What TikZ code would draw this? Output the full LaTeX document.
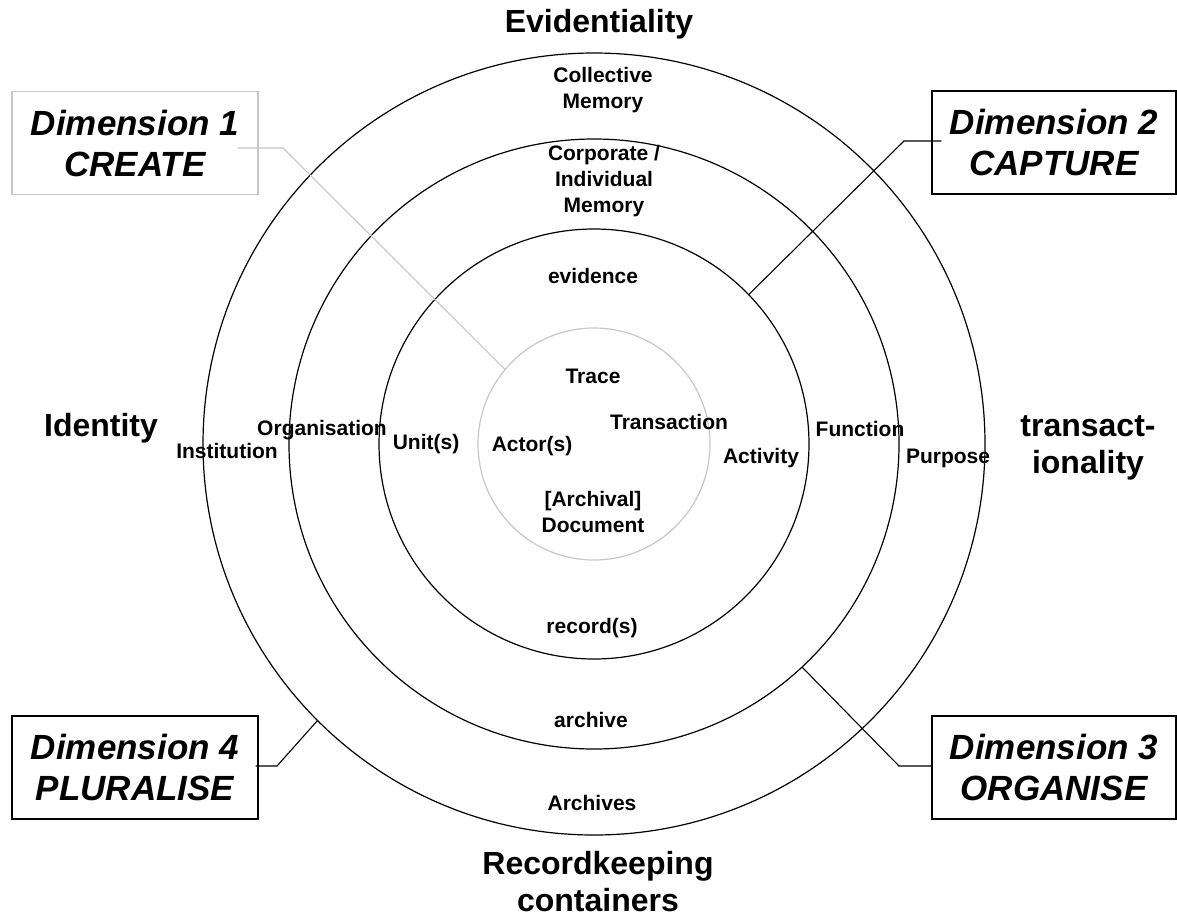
\documentclass[tikz,border=0pt]{standalone}
\usepackage{fontspec}
\setmainfont{Liberation Sans}
\usepackage{xcolor}

\tikzset{
    lbl/.style={font=\bfseries\fontsize{21}{26}\selectfont, align=center, inner sep=1pt},
    pole/.style={font=\bfseries\fontsize{32}{37}\selectfont, align=center},
    dimbox/.style={draw, line width=1.2pt, minimum width=246pt, minimum height=103pt,
        font=\bfseries\itshape\fontsize{35}{41}\selectfont, align=center},
    lead/.style={line width=1.1pt}
}

\begin{document}
\begin{tikzpicture}[x=1pt,y=-1pt]
    \useasboundingbox (0,0) rectangle (1177,919);
    % the four rings, outer to inner
    \foreach \d/\n/\c in {782/c1/black, 610/c2/black, 430/c3/black, 232/c4/black!22}
        \node[circle,draw=\c,line width=1.2pt,minimum size=\d pt,inner sep=0pt,outer sep=0pt]
        (\n) at (594,444) {};

    % the four poles
    \node[pole] (evid) at (599,24) {Evidentiality};
    \node[pole] (ident) at (101,428) {Identity};
    \node[pole] (transa) at (1088,448) {transact-\\ionality};
    \node[pole] (rkc) at (598,882) {Recordkeeping\\containers};

    % ring labels
    \node[lbl] (coll) at (603,90) {Collective\\Memory};
    \node[lbl] (corp) at (604,181) {Corporate /\\Individual\\Memory};
    \node[lbl] (evidence) at (593,276) {evidence};
    \node[lbl] (trace) at (593,376) {Trace};
    \node[lbl] (transaction) at (669,422) {Transaction};
    \node[lbl] (actor) at (532,446) {Actor(s)};
    \node[lbl] (unit) at (426,444) {Unit(s)};
    \node[lbl] (org) at (322,430) {Organisation};
    \node[lbl] (inst) at (227,451) {Institution};
    \node[lbl] (activity) at (761,458) {Activity};
    \node[lbl] (function) at (860,429) {Function};
    \node[lbl] (purpose) at (948,458) {Purpose};
    \node[lbl] (doc) at (593,512) {[Archival]\\Document};
    \node[lbl] (record) at (592,628) {record(s)};
    \node[lbl] (archive) at (591,720) {archive};
    \node[lbl] (archives) at (592,803) {Archives};

    % dimension boxes
    \node[dimbox,draw=black!22] (d1) at (135,143) {Dimension 1\\CREATE};
    \node[dimbox,minimum width=244pt] (d2) at (1054,142.5) {Dimension 2\\CAPTURE};
    \node[dimbox,minimum width=244pt] (d3) at (1054,767.5) {Dimension 3\\ORGANISE};
    \node[dimbox] (d4) at (135,767.5) {Dimension 4\\PLURALISE};

    % leader lines
    \coordinate (k1) at (283,148);
    \coordinate (k2) at (904,141);
    \coordinate (k3) at (899,766);
    \coordinate (k4) at (277,766);
    \draw[lead,black!22] ([xshift=-21pt,yshift=-5pt]d1.east) -- (k1) -- (c4.140);
    \draw[lead] ([xshift=10pt,yshift=1.5pt]d2.west) -- (k2) -- (c3.44);
    \draw[lead] ([yshift=1.5pt]d3.west) -- (k3) -- (c2.-47);
    \draw[lead] ([xshift=-3pt,yshift=1.5pt]d4.east) -- (k4) -- (c1.225);
\end{tikzpicture}
\end{document}
